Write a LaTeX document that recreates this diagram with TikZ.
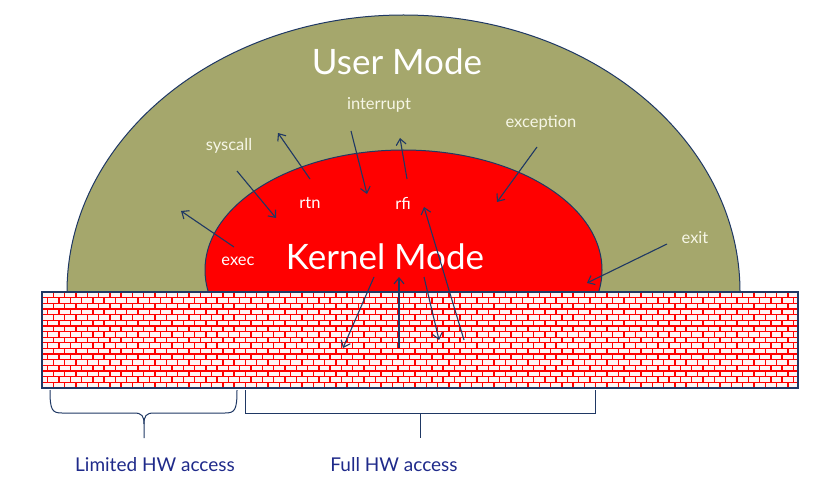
\documentclass[tikz,border=0pt]{standalone}
\usepackage{fontspec}
\setmainfont{Lato}
\usetikzlibrary{arrows.meta}
\definecolor{olive}{HTML}{A5A76C}
\definecolor{navy}{HTML}{1F3864}
\definecolor{labnavy}{HTML}{1F2A8A}
\definecolor{cream}{HTML}{F6F6E6}
\definecolor{mortar}{HTML}{FF0000}
\definecolor{brick}{HTML}{FFF4F4}
\tikzset{
  conn/.style={draw=navy, line width=1.1pt, -{Straight Barb[length=6pt,width=10pt,line width=1.1pt]}},
  biglab/.style={text=white, font=\fontsize{35}{37}\selectfont, inner sep=0pt},
  smalllab/.style={text=cream, font=\fontsize{16.5}{18}\selectfont, inner sep=0pt},
  redlab/.style={text=white, font=\fontsize{16.5}{18}\selectfont, inner sep=0pt},
  hwlab/.style={text=labnavy, font=\fontsize{19}{21}\selectfont, inner sep=0pt},
  brace/.style={draw=navy, line width=1pt},
}
\begin{document}
\begin{tikzpicture}[x=1pt,y=-1pt]
\useasboundingbox (0,0) rectangle (813,494);
% user mode
\filldraw[fill=olive, draw=navy, line width=1pt] (67,292) arc[start angle=180, end angle=360, x radius=336.5, y radius=277] -- cycle;
% kernel mode
\begin{scope}
\clip (0,0) rectangle (813,292);
\filldraw[fill=red, draw=navy, line width=1pt] (403.5,270) ellipse[x radius=198.5, y radius=120];
\end{scope}
% wall
\fill[brick] (42,292) rectangle (798,388);
\begin{scope}
\clip (42,292) rectangle (798,388);
\foreach \i in {0,...,16}{
  \pgfmathsetmacro\yy{292+\i*5.647}
  \pgfmathsetmacro\yb{\yy+5.647}
  \pgfmathsetmacro\off{mod(\i,2)*5.65}
  \draw[mortar, line width=1.3pt] (42,\yy) -- (798,\yy);
  \draw[mortar, line width=1.4pt]
    \foreach \k in {0,...,68}{ ({42+\off+\k*11.3},\yy) -- ({42+\off+\k*11.3},\yb) };
}
\end{scope}
\draw[navy, line width=1.2pt] (42,292) rectangle (798,388);
% labels
\node[biglab] (user) at (397,62) {User Mode};
\node[biglab] (kernel) at (385,257) {Kernel Mode};
\node[smalllab] (interrupt) at (379,105) {interrupt};
\node[smalllab] (syscall) at (229,146) {syscall};
\node[smalllab] (exception) at (541,123) {exception};
\node[smalllab] (exit) at (695,238) {exit};
\node[redlab] (rtn) at (310,203) {rtn};
\node[redlab] (rfi) at (403,203) {rfi};
\node[redlab] (exec) at (238,261) {exec};
\node[hwlab] (limited) at (155,465) {Limited HW access};
\node[hwlab] (full) at (394,465) {Full HW access};
% arrow endpoints
\coordinate (s1) at (237,171); \coordinate (e1) at (276,218);
\coordinate (s2) at (310,179); \coordinate (e2) at (278,133);
\coordinate (s3) at (351,131); \coordinate (e3) at (367,194);
\coordinate (s4) at (407,179); \coordinate (e4) at (400,138);
\coordinate (s5) at (234,247); \coordinate (e5) at (181,211);
\coordinate (s6) at (537,147); \coordinate (e6) at (497,202);
\coordinate (s7) at (667,244); \coordinate (e7) at (587,283);
\coordinate (s8) at (374,277); \coordinate (e8) at (343,348);
\coordinate (s9) at (399,348); \coordinate (e9) at (399,277);
\coordinate (s10) at (424,277); \coordinate (e10) at (439,340);
\coordinate (s11) at (464,340); \coordinate (e11) at (424,207);
\foreach \n in {1,...,11}{ \draw[conn] (s\n) -- (e\n); }
% braces
\coordinate (bl1) at (50,390); \coordinate (bl2) at (237,390);
\coordinate (btip) at (144,438);
\draw[brace] (bl1) .. controls (50,410) and (52,413) .. (62,413) -- (134,413)
  .. controls (142,413) and (144,416) .. (144,424) -- (btip);
\draw[brace] (bl2) .. controls (237,410) and (235,413) .. (225,413) -- (154,413)
  .. controls (146,413) and (144,416) .. (144,424);
\coordinate (br1) at (245,390); \coordinate (br2) at (595,390);
\coordinate (bmid) at (420,413); \coordinate (btip2) at (420,438);
\draw[brace] (br1) -- (245,413) -- (595,413) -- (br2);
\draw[brace] (bmid) -- (btip2);
\end{tikzpicture}
\end{document}
